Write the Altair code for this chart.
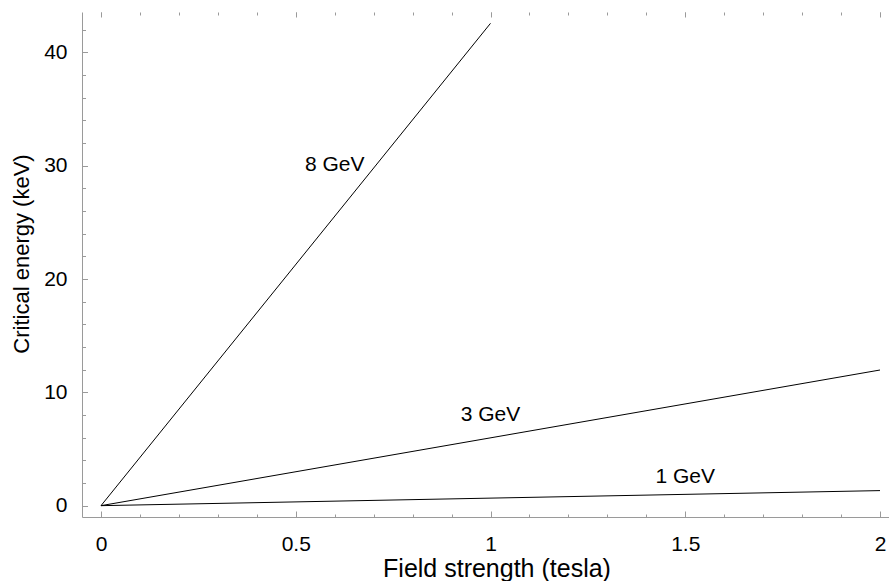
import altair as alt
import pandas as pd

# Beam energies and the end point of each straight critical-energy line
beam_labels = ["8 GeV", "3 GeV", "1 GeV"]
field_end = [1.0, 2.0, 2.0]          # tesla
ec_end = [42.56, 11.97, 1.33]        # keV at the end field

# Label anchor positions (data units)
label_field = [0.60, 1.00, 1.50]
label_ec = [30.06, 7.96, 2.49]

# Axis tick values
x_major = [0, 0.5, 1, 1.5, 2]
x_minor = [round(i * 0.1, 1) for i in range(21)]
y_major = [0, 10, 20, 30, 40]
y_minor = list(range(0, 44, 2))

rows = []
for name, b, e in zip(beam_labels, field_end, ec_end):
    rows.append({"beam": name, "B": 0.0, "Ec": 0.0})
    rows.append({"beam": name, "B": b, "Ec": e})
lines_df = pd.DataFrame(rows)
labels_df = pd.DataFrame({"beam": beam_labels, "B": label_field, "Ec": label_ec})

FONT = "Liberation Sans"
AX_GRAY = "#9a9a9a"

x_scale = alt.Scale(domain=[-0.0488, 2.0231], nice=False, zero=False)
y_scale = alt.Scale(domain=[-1.0, 43.56], nice=False, zero=False)

# Main lines with labelled left/bottom axes
lines = alt.Chart(lines_df).mark_line(color="black", strokeWidth=1).encode(
    x=alt.X("B:Q", scale=x_scale, axis=alt.Axis(
        orient="bottom", values=x_major, format="~g", ticks=False, tickSize=0,
        grid=False, domainColor=AX_GRAY, domainWidth=1,
        labelFont=FONT, labelFontSize=21, labelColor="black", labelPadding=16,
        title="Field strength (tesla)", titleFont=FONT, titleFontSize=25,
        titleFontWeight="normal", titleColor="black", titleX=414.5, titleY=59,
        titleBaseline="alphabetic", titleAlign="center")),
    y=alt.Y("Ec:Q", scale=y_scale, axis=alt.Axis(
        orient="left", values=y_major, format="d", ticks=False, tickSize=0,
        grid=False, domainColor=AX_GRAY, domainWidth=1,
        labelFont=FONT, labelFontSize=21, labelColor="black", labelPadding=15,
        title="Critical energy (keV)", titleFont=FONT, titleFontSize=22,
        titleFontWeight="normal", titleColor="black", titleX=-53.5, titleY=241.5,
        titleAngle=270, titleBaseline="alphabetic", titleAlign="center")),
    detail="beam:N",
)


def tick_layer(x_orient, x_vals, x_size, y_vals=None, y_size=None):
    """Invisible layer that only carries inward-pointing tick marks."""
    x_axis = alt.Axis(orient=x_orient, values=x_vals, labels=False, domain=False,
                      ticks=True, tickSize=x_size, offset=-x_size,
                      tickColor=AX_GRAY, tickWidth=1, grid=False, title=None)
    if y_vals is None:
        y_axis = None
    else:
        y_axis = alt.Axis(orient="left", values=y_vals, labels=False, domain=False,
                          ticks=True, tickSize=y_size, offset=-y_size,
                          tickColor=AX_GRAY, tickWidth=1, grid=False, title=None)
    return alt.Chart(lines_df).mark_line(opacity=0).encode(
        x=alt.X("B:Q", scale=x_scale, axis=x_axis),
        y=alt.Y("Ec:Q", scale=y_scale, axis=y_axis),
        detail="beam:N",
    )


major_ticks = tick_layer("bottom", x_major, 6, y_major, 5.5)
minor_ticks = tick_layer("bottom", x_minor, 3, y_minor, 3.5)
top_major = tick_layer("top", x_major, 5)
top_minor = tick_layer("top", x_minor, 3)

labels = alt.Chart(labels_df).mark_text(
    font=FONT, fontSize=21, color="black", align="center", baseline="middle"
).encode(
    x=alt.X("B:Q", scale=x_scale, axis=None),
    y=alt.Y("Ec:Q", scale=y_scale, axis=None),
    text="beam:N",
)

chart = alt.layer(
    lines, major_ticks, minor_ticks, top_major, top_minor, labels
).resolve_axis(
    x="independent", y="independent"
).properties(
    width=807,
    height=505,
    autosize=alt.AutoSizeParams(type="none"),
    padding={"left": 82, "top": 12, "right": 0, "bottom": 64},
    background="white",
).configure_view(stroke=None)

chart.save("out.html", embed_options={"renderer": "svg", "actions": False})
